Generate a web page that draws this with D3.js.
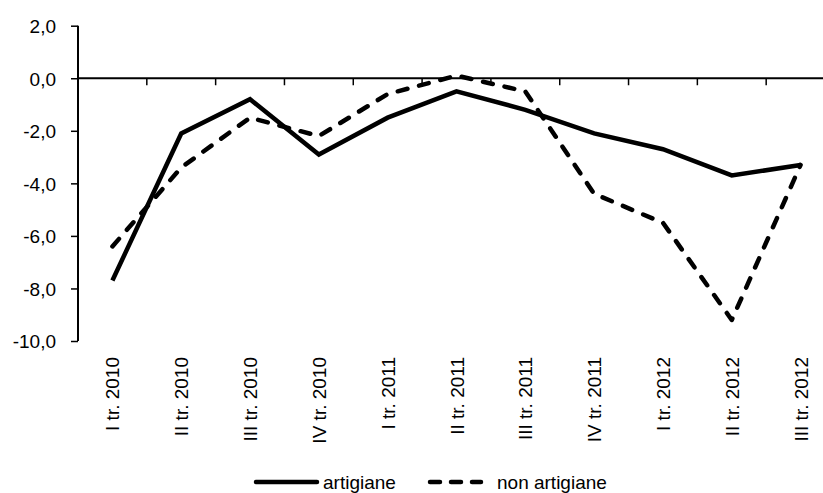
<!DOCTYPE html>
<html>
<head>
<meta charset="utf-8">
<script src="https://cdn.jsdelivr.net/npm/d3@7"></script>
<style>
  html, body { margin: 0; padding: 0; background: #fff; }
  svg { display: block; }
  text { font-family: "Liberation Sans", Arial, sans-serif; fill: #000; }
</style>
</head>
<body>
<svg id="chart" width="823" height="493"></svg>
<script>
const categories = ["I tr. 2010", "II tr. 2010", "III tr. 2010", "IV tr. 2010",
  "I tr. 2011", "II tr. 2011", "III tr. 2011", "IV tr. 2011",
  "I tr. 2012", "II tr. 2012", "III tr. 2012"];
const artigiane = [-7.7, -2.1, -0.8, -2.9, -1.5, -0.5, -1.2, -2.1, -2.7, -3.7, -3.3];
const nonArtigiane = [-6.4, -3.4, -1.5, -2.2, -0.6, 0.1, -0.5, -4.4, -5.5, -9.2, -3.3];
const yTicks = [2, 0, -2, -4, -6, -8, -10];
const seriesNames = ["artigiane", "non artigiane"];

const svg = d3.select("#chart");
const fmt = v => d3.format(".1f")(v).replace(".", ",").replace("−", "-");

const x = d3.scaleBand().domain(categories).range([78, 835]).padding(0);
const y = d3.scaleLinear().domain([-10, 2]).range([341, 25.7]);

// Y axis
const yAxis = svg.append("g").attr("transform", "translate(78,0)")
  .call(d3.axisLeft(y).tickValues(yTicks).tickSize(7).tickPadding(15).tickFormat(fmt));
yAxis.select(".domain").attr("stroke", "#000").attr("stroke-width", 2).attr("d", `M0,${y(2)}V${y(-10)}`);
yAxis.selectAll(".tick line").attr("stroke", "#000").attr("stroke-width", 1.5);
yAxis.selectAll(".tick text").attr("font-size", 19).attr("font-family", "Liberation Sans, Arial, sans-serif").attr("fill", "#000").attr("dy", "0.36em");

// X axis at zero
const xAxis = svg.append("g").attr("transform", `translate(0,${y(0)})`)
  .call(d3.axisBottom(x).tickSize(7).tickFormat(""));
xAxis.select(".domain").attr("stroke", "#000").attr("stroke-width", 2).attr("d", `M78,0H835`);
xAxis.selectAll(".tick").attr("transform", d => `translate(${x(d) + x.bandwidth()},0)`);
xAxis.selectAll(".tick line").attr("stroke", "#000").attr("stroke-width", 1.5);

// Category labels
svg.append("g").selectAll("text").data(categories).join("text")
  .attr("transform", d => `translate(${x(d) + x.bandwidth() / 2 + 7},357) rotate(-90)`)
  .attr("text-anchor", "end")
  .attr("font-size", 19)
  .text(d => d);

const line = d3.line()
  .x((d, i) => x(categories[i]) + x.bandwidth() / 2)
  .y(d => y(d));

svg.append("path").datum(nonArtigiane)
  .attr("d", line).attr("fill", "none").attr("stroke", "#000")
  .attr("stroke-width", 4.5).attr("stroke-dasharray", "10,12").attr("stroke-linecap", "round")
  .attr("stroke-linejoin", "round");

svg.append("path").datum(artigiane)
  .attr("d", line).attr("fill", "none").attr("stroke", "#000")
  .attr("stroke-width", 4.5).attr("stroke-linejoin", "miter");

// Legend
const lg = svg.append("g");
lg.append("line").attr("x1", 256).attr("x2", 317).attr("y1", 482).attr("y2", 482)
  .attr("stroke", "#000").attr("stroke-width", 4.5).attr("stroke-linecap", "round");
lg.append("text").attr("x", 323).attr("y", 489).attr("font-size", 19).text(seriesNames[0]);
lg.append("line").attr("x1", 430).attr("x2", 481).attr("y1", 482).attr("y2", 482)
  .attr("stroke", "#000").attr("stroke-width", 4.5).attr("stroke-dasharray", "10,11").attr("stroke-linecap", "round");
lg.append("text").attr("x", 497).attr("y", 489).attr("font-size", 19).text(seriesNames[1]);
</script>
</body>
</html>
